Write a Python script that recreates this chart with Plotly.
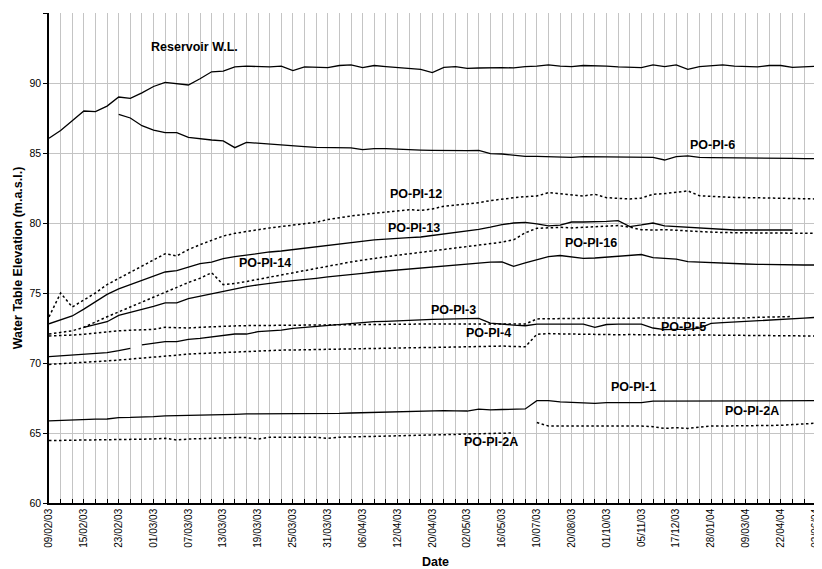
import plotly.graph_objects as go

N = None

# ---- category axis (67 measurement dates; every 3rd one labelled) ----
N_CAT = 67
LABEL_STEP = 3
TICK_LABELS = ["09/02/03", "15/02/03", "23/02/03", "01/03/03", "07/03/03", "13/03/03",
               "19/03/03", "25/03/03", "31/03/03", "06/04/03", "12/04/03", "20/04/03",
               "02/05/03", "16/05/03", "10/07/03", "20/08/03", "01/10/03", "05/11/03",
               "17/12/03", "28/01/04", "09/03/04", "22/04/04", "02/06/04"]

# ---- series values (m.a.s.l.), one value per category ----
RESERVOIR = [86.05, 86.6, 87.3, 88.0, 87.95, 88.35, 89.0, 88.9, 89.3, 89.75,
             90.05, 89.93, 89.86, 90.3, 90.8, 90.85, 91.15, 91.2, 91.15, 91.15,
             91.2, 90.88, 91.15, 91.15, 91.1, 91.25, 91.3, 91.1, 91.25, 91.17,
             91.12, 91.05, 90.98, 90.74, 91.12, 91.17, 91.05, 91.07, 91.1, 91.1,
             91.08, 91.17, 91.2, 91.3, 91.2, 91.17, 91.25, 91.25, 91.2, 91.15,
             91.1, 91.1, 91.3, 91.17, 91.3, 90.98, 91.17, 91.25, 91.3, 91.2,
             91.17, 91.15, 91.25, 91.25, 91.12, 91.17, 91.2]

PO_PI_6 = [N, N, N, N, N, N, 87.76, 87.5, 86.95, 86.64,
           86.45, 86.45, 86.12, 86.0, 85.93, 85.86, 85.38, 85.76, 85.69, 85.64,
           85.57, 85.5, 85.45, 85.4, 85.4, 85.38, 85.36, 85.24, 85.31, 85.31,
           85.26, 85.23, 85.21, 85.19, 85.17, 85.17, 85.17, 85.19, 84.95, 84.93,
           84.86, 84.76, 84.76, 84.74, 84.74, 84.69, 84.74, 84.74, 84.74, 84.74,
           84.74, 84.74, 84.69, 84.5, 84.74, 84.79, 84.69, 84.67, 84.67, 84.64,
           84.64, 84.64, 84.64, 84.62, 84.62, 84.6, 84.6]

PO_PI_12 = [73.3, 75.0, 74.0, 74.5, 75.0, 75.6, 76.05, 76.45, 76.9, 77.35,
            77.8, 77.65, 78.1, 78.45, 78.78, 79.07, 79.26, 79.4, 79.55, 79.65,
            79.75, 79.85, 79.95, 80.05, 80.25, 80.4, 80.5, 80.6, 80.7, 80.8,
            80.9, 80.95, 80.9, 81.0, 81.2, 81.28, 81.35, 81.45, 81.6, 81.72,
            81.8, 81.88, 81.93, 82.17, 82.1, 82.0, 81.93, 82.05, 81.81, 81.76,
            81.72, 81.78, 82.05, 82.1, 82.17, 82.29, 81.95, 81.88, 81.86, 81.83,
            81.82, 81.8, 81.77, 81.76, 81.74, 81.72, 81.72]

PO_PI_13 = [72.8, 73.07, 73.36, 73.85, 74.4, 74.9, 75.3, 75.6, 75.9, 76.2,
            76.5, 76.6, 76.85, 77.1, 77.2, 77.45, 77.6, 77.72, 77.83, 77.93,
            78.0, 78.1, 78.22, 78.32, 78.42, 78.5, 78.58, 78.68, 78.8, 78.85,
            78.88, 78.95, 79.0, 79.1, 79.2, 79.3, 79.42, 79.55, 79.7, 79.88,
            80.0, 80.05, 79.93, 79.79, 79.85, 80.07, 80.07, 80.07, 80.12, 80.17,
            79.74, 79.86, 80.0, 79.79, 79.74, 79.68, 79.62, 79.58, 79.55, 79.5,
            79.5, 79.5, 79.5, 79.5, 79.5, N, N]

PO_PI_14 = [72.07, 72.17, 72.3, 72.55, 72.95, 73.3, 73.65, 74.0, 74.4, 74.75,
            75.1, 75.45, 75.75, 76.05, 76.45, 75.6, 75.68, 75.82, 75.98, 76.12,
            76.28, 76.45, 76.62, 76.78, 76.93, 77.08, 77.22, 77.35, 77.48, 77.58,
            77.7, 77.8, 77.9, 78.0, 78.1, 78.2, 78.33, 78.43, 78.53, 78.63,
            78.8, 79.3, 79.62, 79.68, 79.69, 79.65, 79.7, 79.74, 79.8, 79.82,
            79.7, 79.52, 79.5, 79.52, 79.48, 79.42, 79.38, 79.35, 79.32, 79.3,
            79.3, 79.28, 79.28, 79.28, 79.27, 79.26, 79.26]

PO_PI_16 = [N, N, N, 72.55, 72.75, 72.95, 73.4, 73.6, 73.8, 74.05,
            74.3, 74.3, 74.6, 74.78, 74.95, 75.1, 75.3, 75.45, 75.58, 75.7,
            75.8, 75.88, 75.95, 76.05, 76.15, 76.22, 76.32, 76.4, 76.5, 76.57,
            76.63, 76.7, 76.77, 76.83, 76.92, 77.0, 77.07, 77.12, 77.2, 77.22,
            76.9, 77.15, 77.4, 77.6, 77.68, 77.58, 77.48, 77.5, 77.57, 77.63,
            77.67, 77.75, 77.52, 77.45, 77.42, 77.24, 77.2, 77.15, 77.12, 77.1,
            77.07, 77.05, 77.03, 77.0, 77.0, 77.0, 77.0]

PO_PI_5 = [71.93, 71.95, 72.0, 72.05, 72.15, 72.24, 72.3, 72.34, 72.36, 72.4,
           72.55, 72.52, 72.5, 72.55, 72.6, 72.63, 72.65, 72.67, 72.68, 72.7,
           72.71, 72.72, 72.72, 72.73, 72.73, 72.74, 72.75, 72.75, 72.76, 72.77,
           72.78, 72.78, 72.78, 72.78, 72.78, 72.78, 72.78, 72.78, 72.78, 72.78,
           72.78, 72.78, 73.15, 73.17, 73.19, 73.19, 73.19, 73.19, 73.2, 73.2,
           73.2, 73.2, 73.2, 73.2, 73.22, 73.2, 73.18, 73.2, 73.2, 73.2,
           73.22, 73.26, 73.27, 73.31, 73.32, N, N]

PO_PI_3 = [70.45, 70.5, 70.55, 70.6, 70.67, 70.74, 70.88, 71.05, 71.29, 71.4,
           71.52, 71.52, 71.69, 71.76, 71.88, 72.0, 72.07, 72.07, 72.24, 72.3,
           72.35, 72.47, 72.54, 72.64, 72.71, 72.76, 72.83, 72.9, 72.95, 72.97,
           73.02, 73.04, 73.07, 73.12, 73.14, 73.16, 73.19, 73.19, 72.85, 72.76,
           72.71, 72.66, 72.78, 72.78, 72.78, 72.78, 72.78, 72.55, 72.75, 72.78,
           72.78, 72.78, 72.5, 72.38, 72.4, 72.4, 72.5, 72.83, 72.88, 72.92,
           72.97, 73.02, 73.05, 73.1, 73.15, 73.2, 73.26]
PO_PI_3_BREAK = 8  # the record is interrupted between the 8th and 9th dates

PO_PI_4 = [69.9, 69.94, 69.98, 70.02, 70.08, 70.15, 70.21, 70.27, 70.34, 70.4,
           70.48, 70.56, 70.64, 70.68, 70.72, 70.76, 70.8, 70.84, 70.88, 70.9,
           70.92, 70.93, 70.95, 70.96, 70.97, 70.98, 70.99, 71.0, 71.02, 71.04,
           71.06, 71.08, 71.1, 71.11, 71.13, 71.15, 71.16, 71.18, 71.2, 71.21,
           71.18, 71.16, 72.05, 72.1, 72.08, 72.06, 72.05, 72.05, 72.0, 72.02,
           72.03, 72.02, 72.0, 71.95, 71.97, 71.98, 72.0, 72.0, 71.98, 72.0,
           71.98, 71.97, 71.96, 71.95, 71.94, 71.93, 71.93]

PO_PI_1 = [65.86, 65.9, 65.94, 65.98, 65.99, 66.0, 66.1, 66.11, 66.12, 66.17,
           66.22, 66.23, 66.24, 66.27, 66.29, 66.31, 66.33, 66.36, 66.36, 66.36,
           66.38, 66.4, 66.4, 66.38, 66.36, 66.4, 66.43, 66.45, 66.45, 66.5,
           66.53, 66.55, 66.58, 66.6, 66.6, 66.58, 66.57, 66.7, 66.65, 66.68,
           66.7, 66.72, 67.31, 67.31, 67.22, 67.17, 67.17, 67.12, 67.17, 67.17,
           67.17, 67.17, 67.27, 67.27, 67.27, 67.27, 67.27, 67.28, 67.28, 67.29,
           67.3, 67.3, 67.3, 67.31, 67.31, 67.31, 67.31]

PO_PI_2A = [64.46, 64.47, 64.48, 64.5, 64.5, 64.5, 64.5, 64.52, 64.55, 64.57,
            64.62, 64.5, 64.57, 64.6, 64.62, 64.67, 64.67, 64.67, 64.57, 64.7,
            64.69, 64.69, 64.69, 64.69, 64.62, 64.7, 64.72, 64.74, 64.76, 64.78,
            64.79, 64.8, 64.8, 64.81, 64.85, 64.9, 64.93, 64.95, 64.98, 65.0,
            65.0, N, 65.75, 65.5, 65.5, 65.5, 65.5, 65.5, 65.5, 65.5,
            65.52, 65.5, 65.45, 65.33, 65.38, 65.33, 65.42, 65.5, 65.5, 65.5,
            65.5, 65.5, 65.5, 65.55, 65.6, 65.65, 65.7]

# series labels: (text, category index, elevation)
SERIES_LABELS = [("Reservoir W.L.", 12.5, 92.57), ("PO-PI-6", 57.1, 85.57),
                 ("PO-PI-12", 31.6, 82.07), ("PO-PI-13", 31.4, 79.64),
                 ("PO-PI-14", 18.6, 77.16), ("PO-PI-16", 46.7, 78.59),
                 ("PO-PI-3", 34.86, 73.79), ("PO-PI-4", 37.86, 72.12),
                 ("PO-PI-5", 54.66, 72.59), ("PO-PI-1", 50.3, 68.31),
                 ("PO-PI-2A", 60.5, 66.57), ("PO-PI-2A", 38.06, 64.38)]

FONT = "Arial, 'Liberation Sans', sans-serif"
X = list(range(N_CAT))

SOLID = dict(color="black", width=1.3)
DOTTED = dict(color="black", width=1.5, dash="2.5px,2.5px")

fig = go.Figure()


def add(name, xs, ys, line):
    fig.add_trace(go.Scatter(x=xs, y=ys, mode="lines", name=name, line=line,
                             connectgaps=False, showlegend=False, hoverinfo="skip"))


add("Reservoir W.L.", X, RESERVOIR, SOLID)
add("PO-PI-6", X, PO_PI_6, SOLID)
add("PO-PI-12", X, PO_PI_12, DOTTED)
add("PO-PI-13", X, PO_PI_13, SOLID)
add("PO-PI-14", X, PO_PI_14, DOTTED)
add("PO-PI-16", X, PO_PI_16, SOLID)
add("PO-PI-5", X, PO_PI_5, DOTTED)
add("PO-PI-3", X[:PO_PI_3_BREAK], PO_PI_3[:PO_PI_3_BREAK], SOLID)
add("PO-PI-3", X[PO_PI_3_BREAK:], PO_PI_3[PO_PI_3_BREAK:], SOLID)
add("PO-PI-4", X, PO_PI_4, DOTTED)
add("PO-PI-1", X, PO_PI_1, SOLID)
add("PO-PI-2A", X, PO_PI_2A, DOTTED)

for text, xi, yv in SERIES_LABELS:
    fig.add_annotation(x=xi, y=yv, text="<b>" + text + "</b>", showarrow=False,
                       font=dict(family=FONT, size=12.5, color="black"))

GRID = "#c4c4c4"
# the page body has an 8px margin, so the figure is sized to fit inside the window
fig.update_layout(
    width=814, height=561,
    margin=dict(l=41, r=0, t=5, b=66, autoexpand=False),
    paper_bgcolor="white", plot_bgcolor="white",
    font=dict(family=FONT, color="black"),
    xaxis=dict(
        range=[0, 66.55], tickmode="array",
        tickvals=X[::LABEL_STEP], ticktext=TICK_LABELS, tickangle=-90,
        tickfont=dict(size=10, family=FONT), ticklabeloverflow="allow",
        ticks="inside", ticklen=4, tickcolor="black", tickwidth=1,
        showline=True, linecolor="black", linewidth=1.5,
        showgrid=True, gridcolor=GRID, gridwidth=1, zeroline=False,
        minor=dict(tickmode="array", tickvals=X, ticks="inside", ticklen=4,
                   tickcolor="black", tickwidth=1, showgrid=True,
                   gridcolor=GRID, gridwidth=1),
        title=dict(text="<b>Date</b>", font=dict(size=12.5, family=FONT), standoff=11),
        automargin=False,
    ),
    yaxis=dict(
        range=[60, 95], dtick=5, tick0=60,
        tickfont=dict(size=10.5, family=FONT),
        ticks="outside", ticklen=4, tickcolor="black", tickwidth=1,
        showline=True, linecolor="black", linewidth=1.5,
        showgrid=True, gridcolor=GRID, gridwidth=1, zeroline=False,
        title=dict(text="<b>Water Table Elevation (m.a.s.l.)</b>",
                   font=dict(size=12.5, family=FONT), standoff=4),
        automargin=False,
    ),
)

fig.write_html("out.html")
